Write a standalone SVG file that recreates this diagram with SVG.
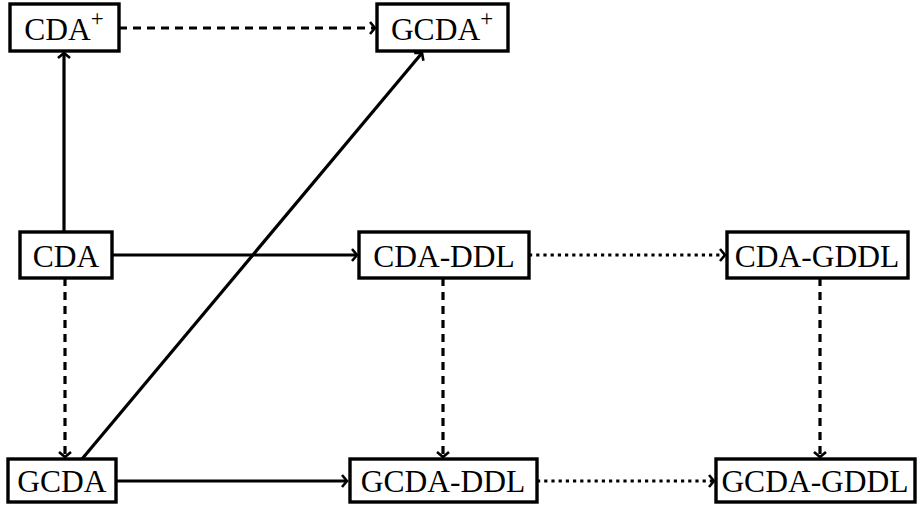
<svg xmlns="http://www.w3.org/2000/svg" width="920" height="506" viewBox="0 0 920 506">
<defs>
<style>
.box{fill:#fff;stroke:#000;stroke-width:3.4}
.lbl{font-family:"Liberation Serif","Times New Roman",serif;font-size:31.5px;fill:#000;text-anchor:middle}
.sup{font-size:23px}
.c{fill:none;stroke:#000;stroke-width:3.2}
.dash{stroke-dasharray:8 6}
.dot{stroke-dasharray:3.2 4}
</style>
<marker id="ar" markerUnits="userSpaceOnUse" markerWidth="16" markerHeight="16" viewBox="-8 -8 16 16" refX="0" refY="0" orient="auto">
<path d="M-5,-6 L0,0 L-5,6" fill="none" stroke="#000" stroke-width="2.6" stroke-linejoin="miter"/>
</marker>
</defs>
<rect width="920" height="506" fill="#fff"/>
<g id="connectors">
<path class="c" d="M64,232 V53" marker-end="url(#ar)"/>
<path class="c dash" d="M119,28 H375" marker-end="url(#ar)"/>
<path class="c" d="M82,459 L422,53" marker-end="url(#ar)"/>
<path class="c" d="M112,255 H357" marker-end="url(#ar)"/>
<path class="c dot" d="M529,255 H725" marker-end="url(#ar)"/>
<path class="c dash" d="M65,278 V457" marker-end="url(#ar)"/>
<path class="c dash" d="M443,278 V457" marker-end="url(#ar)"/>
<path class="c dash" d="M820,278 V457" marker-end="url(#ar)"/>
<path class="c" d="M116,481 H347" marker-end="url(#ar)"/>
<path class="c dot" d="M537,481 H714" marker-end="url(#ar)"/>
</g>
<g id="n-cdaplus"><rect class="box" x="10" y="4" width="109" height="47"/><text class="lbl" x="64" y="40">CDA<tspan class="sup" dy="-14">+</tspan></text></g>
<g id="n-gcdaplus"><rect class="box" x="377" y="4" width="131" height="47"/><text class="lbl" x="442" y="40">GCDA<tspan class="sup" dy="-14">+</tspan></text></g>
<g id="n-cda"><rect class="box" x="20" y="232" width="92" height="46"/><text class="lbl" x="66" y="267">CDA</text></g>
<g id="n-cdaddl"><rect class="box" x="359" y="232" width="170" height="46"/><text class="lbl" x="444" y="267">CDA-DDL</text></g>
<g id="n-cdagddl"><rect class="box" x="727" y="232" width="181" height="46"/><text class="lbl" x="817" y="267">CDA-GDDL</text></g>
<g id="n-gcda"><rect class="box" x="8" y="459" width="108" height="43"/><text class="lbl" x="62" y="492">GCDA</text></g>
<g id="n-gcdaddl"><rect class="box" x="350" y="459" width="187" height="43"/><text class="lbl" x="443" y="492">GCDA-DDL</text></g>
<g id="n-gcdagddl"><rect class="box" x="716" y="459" width="199" height="43"/><text class="lbl" x="815" y="492">GCDA-GDDL</text></g>
</svg>
